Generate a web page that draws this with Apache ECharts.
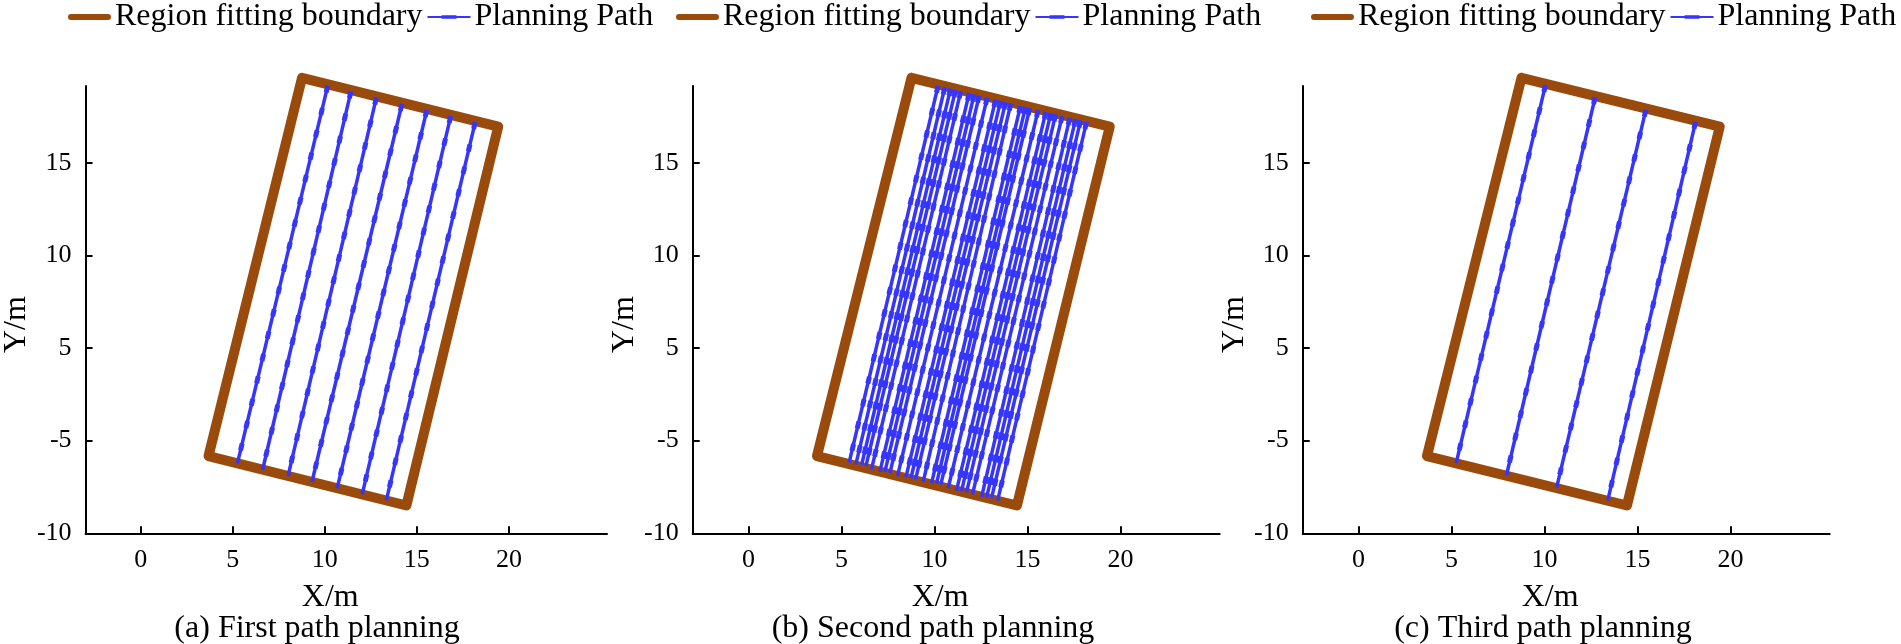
<!DOCTYPE html>
<html>
<head>
<meta charset="utf-8">
<script src="https://cdn.jsdelivr.net/npm/echarts@6/dist/echarts.min.js"></script>
<style>html,body{margin:0;padding:0;background:#fff}#c{width:1901px;height:644px}</style>
</head>
<body>
<div id="c"></div>
<script>
// ---- data ----
const legendNames = ['Region fitting boundary', 'Planning Path'];
const captions = ['(a) First path planning', '(b) Second path planning', '(c) Third path planning'];
const xTickValues = [0, 5, 10, 15, 20];
const yTickValues = [-5, 0, 5, 10, 15];
const yTickLabels = ['-10', '-5', '5', '10', '15'];

// fitted region (closed polygon)
const boundaryX = [8.76, 19.42, 14.43, 3.68, 8.76];
const boundaryY = [19.58, 16.95, -3.50, -0.83, 19.58];

// (a) first planning
const path1TopX = [10.16, 11.42, 12.80, 14.19, 15.54, 16.84, 18.17];
const path1TopY = [19.16, 18.85, 18.51, 18.17, 17.84, 17.51, 17.19];
const path1BotX = [5.25, 6.62, 8.00, 9.30, 10.67, 12.03, 13.34];
const path1BotY = [-1.23, -1.57, -1.91, -2.23, -2.57, -2.90, -3.22];

// (b) second planning
const path2TopX = [10.19, 10.55, 10.86, 11.13, 11.41, 11.86, 12.13, 12.40, 12.83, 13.28, 13.55, 13.82, 14.10,
                   14.62, 14.89, 15.12, 15.57, 15.98, 16.25, 16.51, 16.86, 17.27, 17.58, 17.85, 18.17];
const path2TopY = [19.15, 19.06, 18.99, 18.92, 18.85, 18.74, 18.68, 18.61, 18.50, 18.39, 18.32, 18.26, 18.19,
                   18.06, 18.00, 17.94, 17.83, 17.73, 17.66, 17.60, 17.51, 17.41, 17.34, 17.27, 17.19];
const path2BotX = [5.41, 5.77, 6.08, 6.31, 6.61, 7.06, 7.33, 7.60, 8.01, 8.46, 8.73, 8.98, 9.39,
                   9.84, 10.11, 10.34, 10.73, 11.18, 11.45, 11.72, 12.04, 12.53, 12.80, 13.06, 13.39];
const path2BotY = [-1.19, -1.28, -1.31, -1.37, -1.55, -1.68, -1.68, -1.76, -1.91, -1.98, -2.03, -2.09, -2.22,
                   -2.30, -2.30, -2.36, -2.57, -2.70, -2.72, -2.79, -2.90, -3.03, -3.06, -3.11, -3.24];

// (c) third planning
const path3TopX = [10.05, 12.72, 15.45, 18.12];
const path3TopY = [19.19, 18.53, 17.86, 17.20];
const path3BotX = [5.25, 7.95, 10.65, 13.40];
const path3BotY = [-1.21, -1.88, -2.54, -3.22];

// ---- layout / style ----
const FONT = '"Liberation Serif", "Times New Roman", serif';
const BROWN = '#9A4B0C';
const BLUE = '#3535FF';
const gridLefts = [80, 692.7, 1302.7];
const legendLefts = [68, 676, 1311];
const captionCenters = [317, 933, 1543];
const GRID_W = 527, GRID_TOP = 86, GRID_H = 447.3;

const paths = [
  [path1TopX, path1TopY, path1BotX, path1BotY],
  [path2TopX, path2TopY, path2BotX, path2BotY],
  [path3TopX, path3TopY, path3BotX, path3BotY]
];

function pathData(p) {
  const out = [];
  for (let i = 0; i < p[0].length; i++) {
    out.push([p[0][i], p[1][i]]);
    out.push([p[2][i], p[3][i]]);
    out.push(null);
  }
  return out;
}
const boundaryData = boundaryX.map((x, i) => [x, boundaryY[i]]);

const grids = [], xAxes = [], yAxes = [], series = [], legends = [], titles = [];
for (let k = 0; k < 3; k++) {
  grids.push({ left: gridLefts[k], top: GRID_TOP, width: GRID_W, height: GRID_H, containLabel: false });
  xAxes.push({
    type: 'value', gridIndex: k, min: -3, max: 25.33,
    name: 'X/m', nameLocation: 'middle', nameGap: 48,
    nameTextStyle: { fontFamily: FONT, fontSize: 32, color: '#000', padding: [0, 32, 0, 0] },
    axisLine: { show: true, onZero: false, lineStyle: { color: '#000', width: 2 } },
    axisTick: { show: true, inside: true, length: 7, lineStyle: { color: '#000', width: 2 }, customValues: xTickValues },
    axisLabel: { fontFamily: FONT, fontSize: 26, color: '#000', margin: 14, customValues: xTickValues },
    splitLine: { show: false }
  });
  yAxes.push({
    type: 'value', gridIndex: k, min: -5, max: 19.14,
    name: 'Y/m', nameLocation: 'middle', nameGap: 47,
    nameTextStyle: { fontFamily: FONT, fontSize: 32, color: '#000', padding: [0, 30, 0, 0] },
    axisLine: { show: true, onZero: false, lineStyle: { color: '#000', width: 2 } },
    axisTick: { show: true, inside: true, length: 7, lineStyle: { color: '#000', width: 2 }, customValues: yTickValues },
    axisLabel: {
      fontFamily: FONT, fontSize: 26, color: '#000', margin: 14, customValues: yTickValues,
      formatter: v => { const i = yTickValues.indexOf(v); return i >= 0 ? yTickLabels[i] : ''; }
    },
    splitLine: { show: false }
  });
  series.push({
    type: 'line', name: legendNames[0], xAxisIndex: k, yAxisIndex: k,
    data: boundaryData, symbol: 'none', clip: false, z: 2, color: BROWN,
    lineStyle: { color: BROWN, width: 10, join: 'round', cap: 'round' }, animation: false
  });
  series.push({
    type: 'line', name: legendNames[1], xAxisIndex: k, yAxisIndex: k,
    data: pathData(paths[k]), symbol: 'none', clip: false, z: 3, color: BLUE, connectNulls: false,
    lineStyle: { color: BLUE, width: 3.5 }, animation: false
  });
  series.push({
    type: 'line', name: 'pathDash' + k, xAxisIndex: k, yAxisIndex: k,
    data: pathData(paths[k]), symbol: 'none', clip: false, z: 4, color: BLUE, connectNulls: false,
    lineStyle: { color: BLUE, width: 5, type: [7, 16] }, animation: false, silent: true
  });
  legends.push({
    left: legendLefts[k], top: 1, padding: 0, itemGap: 5, itemWidth: 43, itemHeight: 14,
    textStyle: { fontFamily: FONT, fontSize: 32, color: '#000', padding: [0, 0, 0, -1] },
    itemStyle: { borderWidth: 0 },
    selectedMode: false,
    data: [
      { name: legendNames[0], icon: 'path://M3,0H41A3,3 0 0 1 41,6H3A3,3 0 0 1 3,0Z' },
      { name: legendNames[1], icon: 'path://M0,3H46V5H0Z M15,2H31V6H15Z' }
    ]
  });
  titles.push({
    text: captions[k], left: captionCenters[k], top: 613, textAlign: 'center', padding: 0,
    textStyle: { fontFamily: FONT, fontSize: 32, fontWeight: 'normal', color: '#000' }
  });
}

const chart = echarts.init(document.getElementById('c'), null, { renderer: 'canvas' });
chart.setOption({
  backgroundColor: '#fff', animation: false,
  title: titles, legend: legends, grid: grids, xAxis: xAxes, yAxis: yAxes, series: series
});
</script>
</body>
</html>
